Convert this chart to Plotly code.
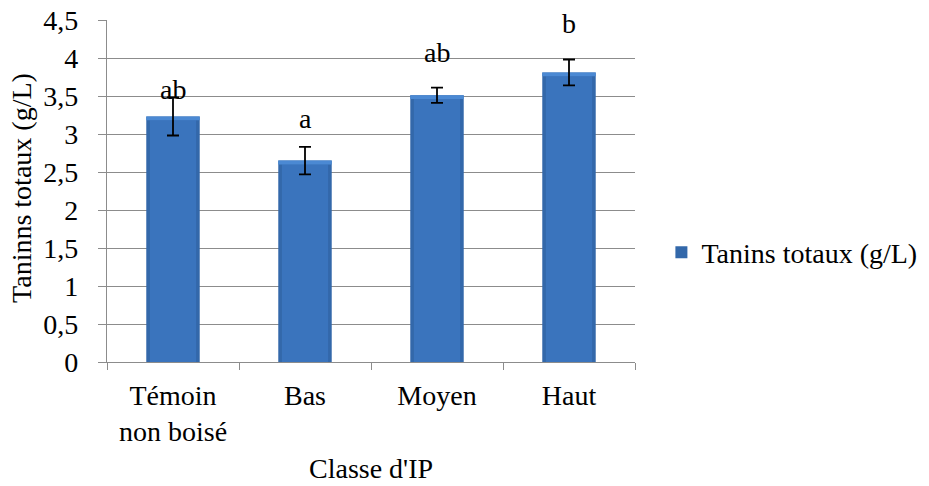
import plotly.graph_objects as go

# ---- data ----
categories = ["Témoin<br>non boisé", "Bas", "Moyen", "Haut"]
values = [3.23, 2.65, 3.51, 3.81]
errors = [0.25, 0.18, 0.10, 0.17]
letters = ["ab", "a", "ab", "b"]
letter_y = [3.58, 3.21, 4.07, 4.45]
series_name = "Tanins totaux (g/L)"
y_title = "Taninns totaux (g/L)"
x_title = "Classe d'IP"

FONT = "Liberation Serif, Times New Roman, serif"
FS = 28
GRID = "#8c8c8c"
BEVEL = 0.05

fig = go.Figure()
# dark outer bar (edges)
fig.add_trace(go.Bar(x=categories, y=values, width=0.405, name=series_name,
                     marker=dict(color="#3368AA", line=dict(width=0)),
                     showlegend=True, hoverinfo="skip"))
# lighter centre body
fig.add_trace(go.Bar(x=categories, y=[v - BEVEL for v in values], width=0.35,
                     marker=dict(color="#3A74BD", line=dict(width=0)),
                     showlegend=False, hoverinfo="skip"))
# top bevel highlight
fig.add_trace(go.Bar(x=categories, y=[BEVEL] * len(values),
                     base=[v - BEVEL for v in values], width=0.405,
                     marker=dict(color="#4B89D3", line=dict(width=0)),
                     showlegend=False, hoverinfo="skip"))
# error bars
fig.add_trace(go.Scatter(x=categories, y=values, mode="markers",
                         marker=dict(size=0.1, color="rgba(0,0,0,0)"),
                         error_y=dict(type="data", array=errors, visible=True,
                                      color="black", thickness=1.8, width=6),
                         showlegend=False, hoverinfo="skip"))

for c, t, ly in zip(categories, letters, letter_y):
    fig.add_annotation(x=c, y=ly, text=t, showarrow=False, xref="x", yref="y",
                       yanchor="middle", font=dict(family=FONT, size=FS, color="black"))

# axis titles as annotations for precise placement
fig.add_annotation(x=0.5, y=-0.312, xref="paper", yref="paper", text=x_title,
                   showarrow=False, xanchor="center", yanchor="middle", borderpad=0,
                   font=dict(family=FONT, size=FS, color="black"))
fig.add_annotation(x=-0.161, y=0.509, xref="paper", yref="paper", text=y_title,
                   showarrow=False, textangle=-90, xanchor="center", yanchor="middle",
                   font=dict(family=FONT, size=FS, color="black"))

fig.update_layout(
    width=929, height=486,
    margin=dict(l=107, r=294, t=20, b=124, autoexpand=False),
    paper_bgcolor="white", plot_bgcolor="white",
    barmode="overlay",
    separators=", ",
    font=dict(family=FONT, size=FS, color="black"),
    legend=dict(x=1.05, y=0.32, xanchor="left", yanchor="middle",
                font=dict(family=FONT, size=FS, color="black"),
                bgcolor="rgba(0,0,0,0)"),
)
fig.update_xaxes(
    type="category", tickson="boundaries", ticks="outside", ticklen=7,
    tickcolor=GRID, tickwidth=1.3, showline=True, linecolor=GRID, linewidth=1.3,
    showgrid=False, automargin=False, ticklabelstandoff=8,
    ticklabeloverflow="allow",
    tickfont=dict(family=FONT, size=FS, color="black"),
)
fig.update_yaxes(
    range=[0, 4.5], dtick=0.5, tick0=0, ticks="outside", ticklen=8,
    tickcolor=GRID, tickwidth=1.3, showline=True, linecolor=GRID, linewidth=1.3,
    showgrid=True, gridcolor=GRID, gridwidth=1.3, zeroline=False,
    ticklabelstandoff=14, automargin=False, ticklabeloverflow="allow",
    tickfont=dict(family=FONT, size=FS, color="black"),
)

# remove the browser's default 8px body margin so the figure sits at (0, 0)
fig.write_html("out.html", config={"displayModeBar": False},
               post_script="document.body.style.margin='0';document.body.style.overflow='hidden';")
